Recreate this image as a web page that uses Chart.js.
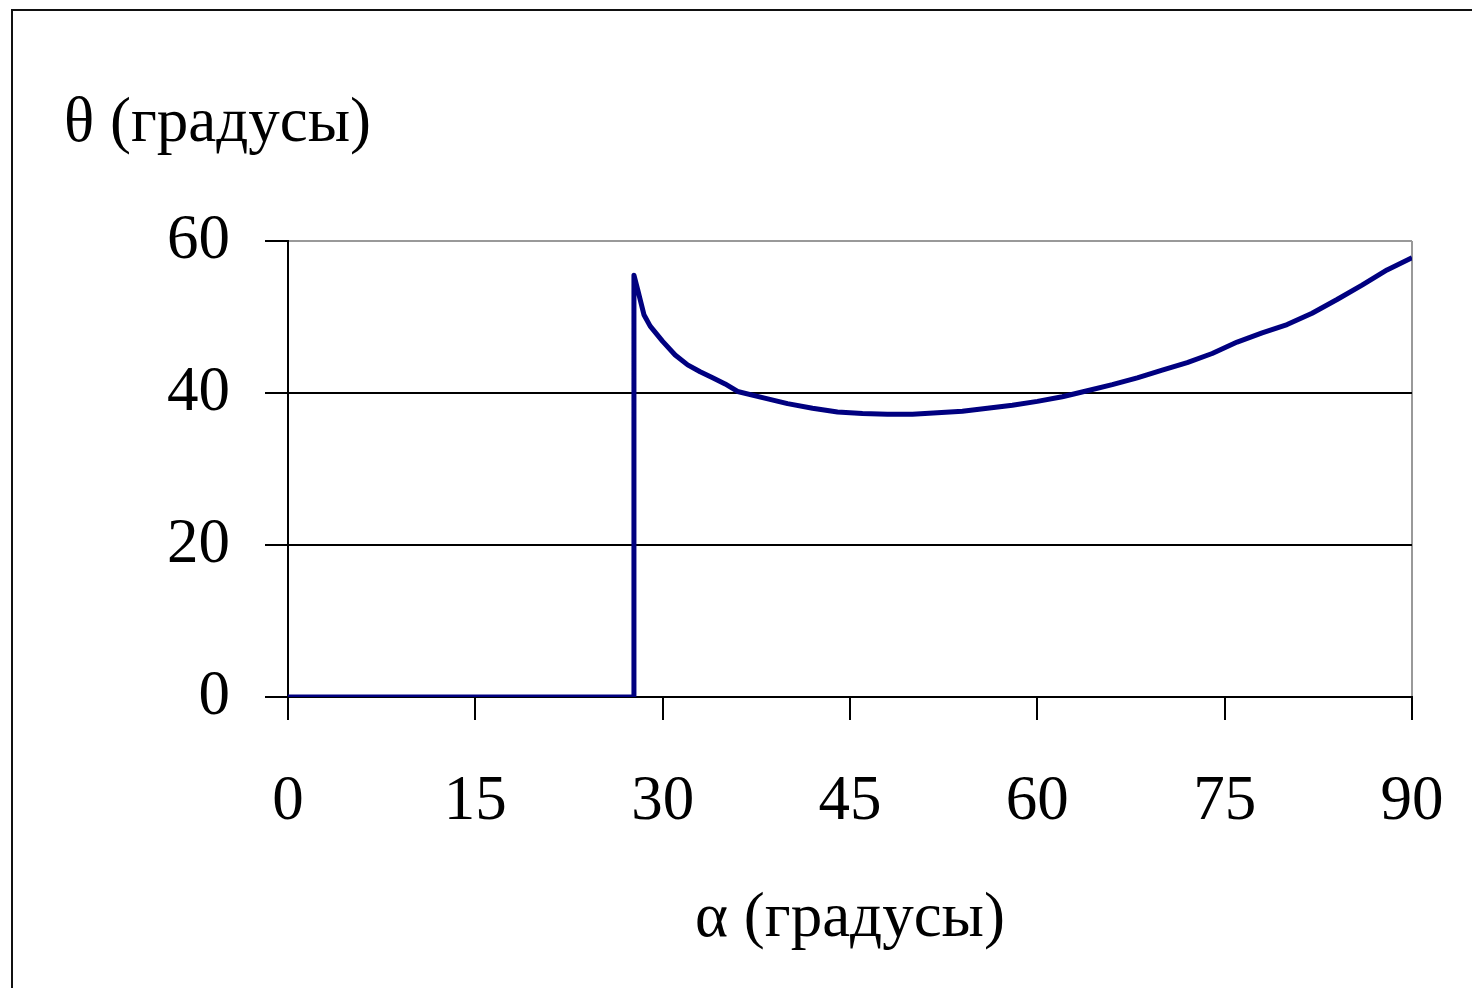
<!DOCTYPE html>
<html>
<head>
<meta charset="utf-8">
<script src="https://cdn.jsdelivr.net/npm/chart.js@4/dist/chart.umd.min.js"></script>
<style>
  body { margin:0; background:#fff; overflow:hidden; }
  #wrap { position:relative; width:1472px; height:988px; }
  #frame { position:absolute; left:11px; top:9px; width:1500px; height:1000px; border:2px solid #111; }
  #ytitle { position:absolute; left:64px; top:89px; font:63px "Liberation Serif", "Times New Roman", serif; line-height:63px; color:#000; white-space:nowrap; }
  canvas { position:absolute; left:0; top:0; }
</style>
</head>
<body>
<div id="wrap">
  <div id="frame"></div>
  <div id="ytitle">θ (градусы)</div>
  <canvas id="c" width="1472" height="988"></canvas>
</div>
<script>
// données
const alpha = [0, 27.7, 27.7, 28, 28.5, 29, 30, 31, 32, 33, 34, 35, 36, 38, 40, 42, 44, 46, 48, 50,
  52, 54, 56, 58, 60, 62, 64, 66, 68, 70, 72, 74, 76, 78, 80, 82, 84, 86, 88, 90];
const theta = [0, 0, 55.5, 53.6, 50.3, 48.8, 46.8, 45.0, 43.7, 42.8, 42.0, 41.2, 40.2, 39.4, 38.6, 38.0, 37.5, 37.3, 37.2, 37.2,
  37.4, 37.6, 38.0, 38.4, 38.9, 39.5, 40.3, 41.1, 42.0, 43.0, 44.0, 45.2, 46.7, 47.9, 49.0, 50.5, 52.3, 54.2, 56.2, 57.8];
const xTicks = [0, 15, 30, 45, 60, 75, 90];
const yTicks = [0, 20, 40, 60];
const xTitle = 'α (градусы)';

const serif = '"Liberation Serif", "Times New Roman", serif';
const tickFont = { family: serif, size: 63 };

new Chart(document.getElementById('c'), {
  type: 'line',
  data: {
    datasets: [{
      data: alpha.map((a, i) => ({ x: a, y: theta[i] })),
      borderColor: '#000080',
      borderWidth: 5,
      borderJoinStyle: 'round',
      pointRadius: 0,
      tension: 0
    }]
  },
  options: {
    responsive: false,
    animation: false,
    layout: { padding: { left: 0, right: 60, top: 241, bottom: 0 } },
    plugins: { legend: { display: false }, tooltip: { enabled: false } },
    scales: {
      x: {
        type: 'linear', min: 0, max: 90,
        afterBuildTicks: s => { s.ticks = xTicks.map(v => ({ value: v })); },
        afterFit: s => { s.height = 988 - 697; s.paddingLeft = 0; s.paddingRight = 0; },
        ticks: { font: tickFont, color: '#000', padding: 45, maxRotation: 0, autoSkip: false },
        grid: {
          tickLength: 23, tickWidth: 2, tickColor: '#000', lineWidth: 2,
          color: c => (c.tick && c.tick.value === 90) ? '#999' : 'rgba(0,0,0,0)'
        },
        border: { color: '#000', width: 2 },
        title: { display: true, text: xTitle, color: '#000', font: { family: serif, size: 63 }, padding: { top: 0, bottom: 31 } }
      },
      y: {
        type: 'linear', min: 0, max: 60,
        afterBuildTicks: s => { s.ticks = yTicks.map(v => ({ value: v })); },
        afterFit: s => { s.width = 288; s.paddingTop = 0; s.paddingBottom = 0; },
        ticks: { font: tickFont, color: '#000', padding: 35 },
        grid: {
          tickLength: 23, tickWidth: 2, tickColor: '#000', lineWidth: 2,
          color: c => (c.tick && c.tick.value === 60) ? '#999' : '#000'
        },
        border: { color: '#000', width: 2 }
      }
    }
  }
});
</script>
</body>
</html>
